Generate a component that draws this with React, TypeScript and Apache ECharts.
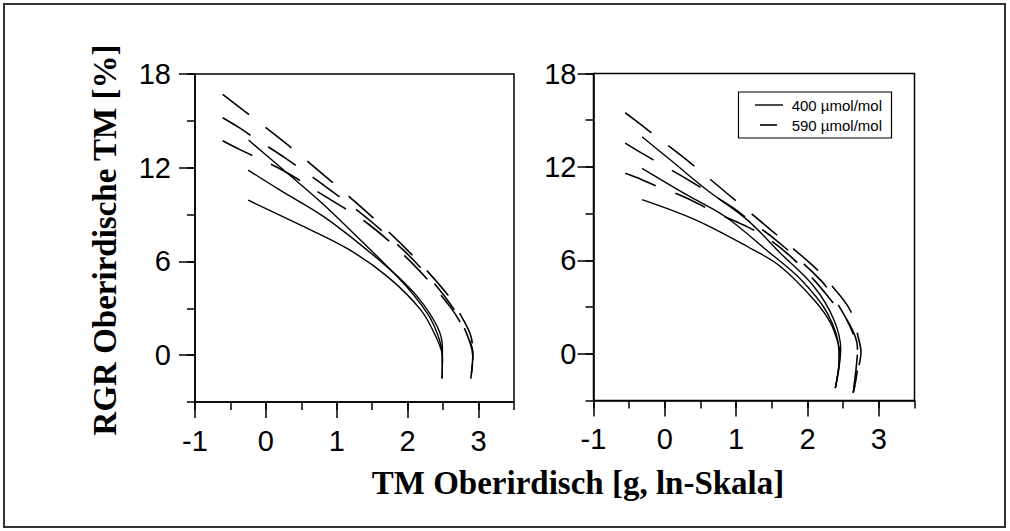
import React, { useEffect, useRef } from "react";
import * as echarts from "echarts";

// ---- texts ----
const xTickValues = [-1, 0, 1, 2, 3];
const yTickValues = [0, 6, 12, 18];
const legendNames = ["400 µmol/mol", "590 µmol/mol"];
const yTitle = "RGR Oberirdische TM [%]";
const xTitle = "TM Oberirdisch [g, ln-Skala]";

// ---- left panel, 400 µmol/mol (solid) ----
const left400a = [[-0.25, 9.92], [0.44, 8.43], [1.15, 6.82], [1.72, 5.01], [2.19, 2.87], [2.4, 1.16], [2.49, -0.12], [2.485, -1.5]];
const left400b = [[-0.25, 11.85], [0.2, 10.56], [0.82, 8.85], [1.43, 6.72], [1.86, 5.0], [2.28, 2.66], [2.45, 0.95], [2.49, -0.3], [2.485, -1.5]];
const left400c = [[-0.245, 13.77], [0.25, 11.85], [0.77, 9.82], [1.29, 7.57], [1.72, 5.65], [2.14, 3.73], [2.42, 1.8], [2.49, 0.5], [2.49, -0.6]];
// ---- left panel, 590 µmol/mol (dashed) ----
const left590a = [[-0.61, 16.7], [-0.15, 15.09], [0.23, 13.75], [0.83, 11.48], [1.455, 9.03], [2.045, 6.5], [2.6, 3.68], [2.75, 2.55], [2.895, 1.16], [2.92, -0.12], [2.89, -1.5]];
const left590b = [[-0.61, 15.2], [-0.36, 14.52], [-0.14, 13.83], [0.26, 12.66], [0.9, 10.6], [1.53, 8.38], [2.15, 5.76], [2.68, 2.76], [2.88, 0.8], [2.92, -0.12], [2.89, -1.5]];
const left590c = [[-0.61, 13.73], [-0.38, 13.19], [0.23, 11.85], [0.83, 10.18], [1.45, 8.38], [2.045, 5.97], [2.6, 3.09], [2.85, 1.16], [2.92, 0.09], [2.89, -1.5]];

// ---- right panel, 400 µmol/mol (solid) ----
const right400a = [[-0.32, 9.9], [0.43, 8.6], [1.155, 6.89], [1.62, 5.61], [2.09, 3.47], [2.325, 1.97], [2.44, 0.48], [2.455, -0.16], [2.39, -2.2]];
const right400b = [[-0.32, 11.91], [0.31, 10.2], [0.85, 8.8], [1.44, 6.6], [1.9, 4.8], [2.28, 2.6], [2.44, 0.2], [2.44, -0.5], [2.39, -2.2]];
const right400c = [[-0.32, 13.94], [0.08, 12.44], [0.59, 10.52], [1.155, 8.6], [1.62, 6.46], [2.09, 4.32], [2.37, 2.19], [2.466, 0.27], [2.44, -0.8], [2.39, -2.2]];
// ---- right panel, 590 µmol/mol (dashed) ----
const right590a = [[-0.555, 15.48], [-0.33, 14.7], [-0.1, 13.88], [0.28, 12.55], [0.87, 10.31], [1.48, 7.98], [2.09, 5.6], [2.315, 4.5], [2.6, 2.78], [2.72, 0.9], [2.75, 0.1], [2.72, -0.8], [2.64, -2.5]];
const right590b = [[-0.555, 13.53], [-0.33, 12.9], [-0.09, 12.27], [0.31, 11.22], [0.944, 9.41], [1.177, 8.6], [1.566, 7.27], [2.19, 4.7], [2.45, 3.0], [2.62, 1.5], [2.7, 0.2], [2.68, -1.0], [2.64, -2.5]];
const right590c = [[-0.555, 11.59], [-0.33, 11.2], [-0.11, 10.75], [0.264, 10.09], [0.7, 9.1], [1.18, 8.1], [1.48, 7.3], [1.8, 6.1], [2.1, 4.7], [2.3, 3.6], [2.58, 1.97], [2.7, 0.4], [2.7, -0.8], [2.64, -2.5]];

const SANS = '"Liberation Sans", Arial, sans-serif';
const SERIF = '"Liberation Serif", "Times New Roman", serif';
const BLACK = "#000";

const panels = [
  { left: 195, top: 74, width: 319, height: 328, yMargin: 24, solid: [left400a, left400b, left400c], dashed: [left590a, left590b, left590c] },
  { left: 593.5, top: 73.5, width: 321, height: 327, yMargin: 17, solid: [right400a, right400b, right400c], dashed: [right590a, right590b, right590c] },
];

function buildOption() {
  const grid: any[] = [];
  const xAxis: any[] = [];
  const yAxis: any[] = [];
  const series: any[] = [];
  const lineW = 1.5;
  const tickStyle = { color: BLACK, width: lineW };
  const labelStyle = { color: BLACK, fontSize: 29, fontFamily: SANS };

  panels.forEach((p) => {
    const g = grid.length;
    // main grid
    grid.push({ left: p.left, top: p.top, width: p.width, height: p.height, show: true, borderColor: BLACK, borderWidth: lineW, backgroundColor: "transparent", containLabel: false });
    // long x ticks grid (range -1..3)
    grid.push({ left: p.left, top: p.top, width: (p.width * 4) / 4.5, height: p.height, containLabel: false });
    // long y ticks grid (range 0..18)
    grid.push({ left: p.left, top: p.top, width: p.width, height: (p.height * 18) / 21, containLabel: false });

    const mainX = xAxis.length;
    xAxis.push({
      type: "value", gridIndex: g, min: -1, max: 3.5, interval: 0.5,
      axisLine: { show: true, onZero: false, lineStyle: tickStyle },
      axisTick: { show: true, length: 8, lineStyle: tickStyle },
      axisLabel: { show: false }, splitLine: { show: false },
    });
    xAxis.push({
      type: "value", gridIndex: g + 1, min: -1, max: 3, interval: 1,
      axisLine: { show: false, onZero: false },
      axisTick: { show: true, length: 16, lineStyle: tickStyle },
      axisLabel: { show: true, margin: 24, ...labelStyle, formatter: (v: number) => (xTickValues.includes(v) ? String(v) : "") },
      splitLine: { show: false },
    });
    xAxis.push({ type: "value", gridIndex: g + 2, show: false, min: 0, max: 1, axisLine: { onZero: false } });

    const mainY = yAxis.length;
    yAxis.push({
      type: "value", gridIndex: g, min: -3, max: 18, interval: 3,
      axisLine: { show: true, onZero: false, lineStyle: tickStyle },
      axisTick: { show: true, length: 8, lineStyle: tickStyle },
      axisLabel: { show: false }, splitLine: { show: false },
    });
    yAxis.push({ type: "value", gridIndex: g + 1, show: false, min: 0, max: 1, axisLine: { onZero: false } });
    yAxis.push({
      type: "value", gridIndex: g + 2, min: 0, max: 18, interval: 6,
      axisLine: { show: false, onZero: false },
      axisTick: { show: true, length: 16, lineStyle: tickStyle },
      axisLabel: { show: true, margin: p.yMargin, ...labelStyle, formatter: (v: number) => (yTickValues.includes(v) ? String(v) : "") },
      splitLine: { show: false },
    });

    p.solid.forEach((d) => {
      series.push({
        type: "line", name: legendNames[0], xAxisIndex: mainX, yAxisIndex: mainY, data: d,
        symbol: "none", smooth: 0.35, lineStyle: { color: BLACK, width: 1.4, type: "solid" }, silent: true,
      });
    });
    p.dashed.forEach((d) => {
      series.push({
        type: "line", name: legendNames[1], xAxisIndex: mainX, yAxisIndex: mainY, data: d,
        symbol: "none", smooth: 0.35, lineStyle: { color: BLACK, width: 1.6, type: [33, 21] }, silent: true,
      });
    });
  });

  const graphic: any[] = [
    { type: "rect", shape: { x: 4, y: 4, width: 1001, height: 523 }, style: { fill: "none", stroke: "#333", lineWidth: 2 }, z: 0 },
    {
      type: "text", x: 105, y: 240, rotation: Math.PI / 2,
      style: { text: yTitle, font: `bold 33px ${SERIF}`, fill: BLACK, align: "center", verticalAlign: "middle", textAlign: "center", textVerticalAlign: "middle" },
    },
    {
      type: "text", x: 578, y: 483,
      style: { text: xTitle, font: `bold 33px ${SERIF}`, fill: BLACK, align: "center", verticalAlign: "middle", textAlign: "center", textVerticalAlign: "middle" },
    },
    // legend
    { type: "rect", shape: { x: 738.5, y: 92, width: 153, height: 46 }, style: { fill: "#fff", stroke: BLACK, lineWidth: 1.2 }, z: 10 },
    { type: "line", shape: { x1: 755, y1: 105, x2: 783, y2: 105 }, style: { stroke: BLACK, lineWidth: 1.4 }, z: 11 },
    { type: "line", shape: { x1: 760, y1: 125, x2: 777, y2: 125 }, style: { stroke: BLACK, lineWidth: 1.6 }, z: 11 },
    {
      type: "text", x: 882, y: 105, z: 11,
      style: { text: legendNames[0], font: `15px ${SANS}`, fill: BLACK, align: "right", verticalAlign: "middle", textAlign: "right", textVerticalAlign: "middle" },
    },
    {
      type: "text", x: 882, y: 125, z: 11,
      style: { text: legendNames[1], font: `15px ${SANS}`, fill: BLACK, align: "right", verticalAlign: "middle", textAlign: "right", textVerticalAlign: "middle" },
    },
  ];

  return { animation: false, backgroundColor: "#fff", grid, xAxis, yAxis, series, graphic };
}

export default function App() {
  const ref = useRef<HTMLDivElement>(null);
  useEffect(() => {
    if (!ref.current) return;
    const chart = echarts.init(ref.current, undefined, { renderer: "svg" });
    chart.setOption(buildOption() as any);
    return () => chart.dispose();
  }, []);
  return <div ref={ref} style={{ position: "absolute", left: 0, top: 0, width: 1010, height: 531, background: "#fff" }} />;
}
